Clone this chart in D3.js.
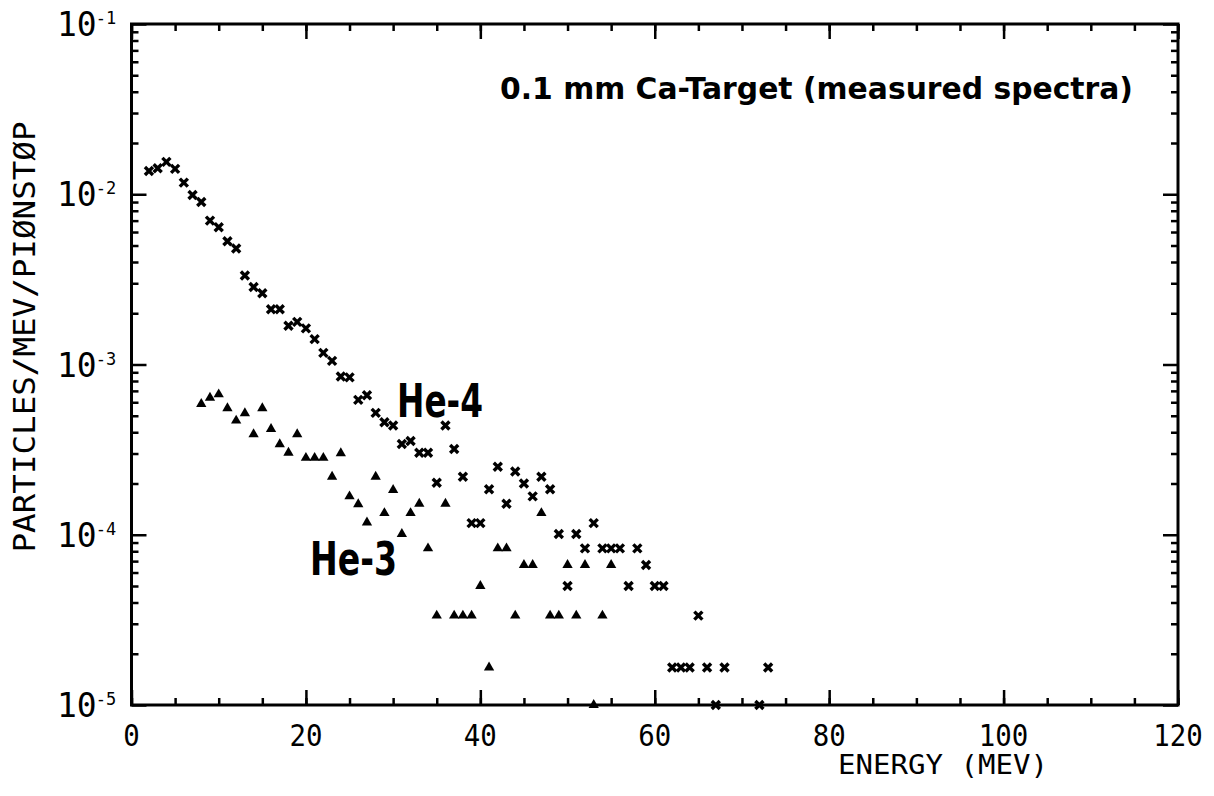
<!DOCTYPE html>
<html>
<head>
<meta charset="utf-8">
<script src="https://cdn.jsdelivr.net/npm/d3@7"></script>
<style>
body { margin: 0; background: #fff; }
text { fill: #000; }
</style>
</head>
<body>
<script>
// He-4 spectrum (crosses): energy in MeV, particles/MeV/pion stop
var he4Energy = [2, 3, 4, 5, 6, 7, 8, 9, 10, 11, 12, 13, 14, 15, 16, 17, 18, 19, 20, 21,
    22, 23, 24, 25, 26, 27, 28, 29, 30, 31, 32, 33, 34, 35, 36, 37, 38, 39, 40, 41,
    42, 43, 44, 45, 46, 47, 48, 49, 50, 51, 52, 53, 54, 55, 56, 57, 58, 59, 60, 61,
    62, 63, 64, 65, 66, 67, 68, 72, 73];
var he4Yield = [0.0137, 0.0142, 0.0155, 0.0141, 0.0117, 0.0099, 0.0090, 0.0070, 0.0064, 0.0053,
    0.0048, 0.00333, 0.00285, 0.00262, 0.00211, 0.00211, 0.00169, 0.00178, 0.00163, 0.00141,
    0.00117, 0.00105, 0.00085, 0.00084, 0.00062, 0.00066, 0.00052, 0.000458, 0.000438, 0.000341,
    0.000355, 0.000303, 0.000303, 0.000202, 0.000438, 0.000319, 0.000219, 0.000117, 0.000117, 0.000185,
    0.000251, 0.000152, 0.000235, 0.000200, 0.000168, 0.000219, 0.000185, 0.000101, 0.0000500, 0.000101,
    0.0000832, 0.000117, 0.0000832, 0.0000832, 0.0000832, 0.0000500, 0.0000832, 0.0000664, 0.0000500, 0.0000500,
    0.0000166, 0.0000166, 0.0000166, 0.0000335, 0.0000166, 0.0000100, 0.0000166, 0.0000100, 0.0000166];

// He-3 spectrum (triangles)
var he3Energy = [8, 9, 10, 11, 12, 13, 14, 15, 16, 17, 18, 19, 20, 21, 22, 23, 24, 25, 26, 27,
    28, 29, 30, 31, 32, 33, 34, 35, 36, 37, 38, 39, 40, 41, 42, 43, 44, 45, 46, 47,
    48, 49, 50, 51, 52, 53, 54, 55];
var he3Yield = [0.000586, 0.000638, 0.000668, 0.000553, 0.000468, 0.000517, 0.000389, 0.000553, 0.000418, 0.000340,
    0.000303, 0.000389, 0.000283, 0.000283, 0.000283, 0.000219, 0.000301, 0.000168, 0.000151, 0.000118,
    0.000219, 0.000134, 0.000183, 0.000101, 0.000134, 0.000152, 0.0000832, 0.0000335, 0.000152, 0.0000335,
    0.0000335, 0.0000335, 0.0000500, 0.0000166, 0.0000832, 0.0000832, 0.0000335, 0.0000664, 0.0000664, 0.000134,
    0.0000335, 0.0000335, 0.0000664, 0.0000335, 0.0000664, 0.0000100, 0.0000335, 0.0000664];

var xMajor = [0, 20, 40, 60, 80, 100, 120];
var yExponents = [-1, -2, -3, -4, -5];
var titleText = "0.1 mm Ca-Target (measured spectra)";

var width = 1214, height = 796;
// plot frame (window.top is reserved, so use other names)
var plotL = 131.5, plotR = 1178, plotT = 24, plotB = 705;

var svg = d3.select("body").append("svg")
    .attr("width", width)
    .attr("height", height)
    .style("background", "#fff");

var x = d3.scaleLinear().domain([0, 120]).range([plotL, plotR]);
var y = d3.scaleLog().domain([1e-5, 1e-1]).range([plotB, plotT]);

// minor ticks every 5 MeV, major every 20, pointing inward on all sides
var xMinor = d3.range(0, 121, 5);
var yMinor = [];
yExponents.slice(1).forEach(function (e) {
    for (var m = 2; m <= 9; m++) yMinor.push(m * Math.pow(10, e));
});
var yMajor = yExponents.map(function (e) { return Math.pow(10, e); });

function addAxis(axis, tx, ty) {
    var g = svg.append("g")
        .attr("transform", "translate(" + tx + "," + ty + ")")
        .call(axis);
    g.select(".domain").remove();
    g.selectAll("line").attr("stroke", "#000").attr("stroke-width", 2.5);
    return g;
}

addAxis(d3.axisBottom(x).tickValues(xMinor).tickSize(-7).tickFormat(""), 0, plotB);
addAxis(d3.axisBottom(x).tickValues(xMajor).tickSize(-15).tickFormat(""), 0, plotB);
addAxis(d3.axisTop(x).tickValues(xMinor).tickSize(-7).tickFormat(""), 0, plotT);
addAxis(d3.axisTop(x).tickValues(xMajor).tickSize(-15).tickFormat(""), 0, plotT);
addAxis(d3.axisLeft(y).tickValues(yMinor).tickSize(-7).tickFormat(""), plotL, 0);
addAxis(d3.axisLeft(y).tickValues(yMajor).tickSize(-15).tickFormat(""), plotL, 0);
addAxis(d3.axisRight(y).tickValues(yMinor).tickSize(-7).tickFormat(""), plotR, 0);
addAxis(d3.axisRight(y).tickValues(yMajor).tickSize(-15).tickFormat(""), plotR, 0);

// frame
svg.append("rect")
    .attr("x", plotL).attr("y", plotT)
    .attr("width", plotR - plotL).attr("height", plotB - plotT)
    .attr("fill", "none")
    .attr("stroke", "#000")
    .attr("stroke-width", 3);

// x tick labels
svg.selectAll(".xlab")
    .data(xMajor)
    .enter().append("text")
    .attr("class", "xlab")
    .attr("x", function (d) { return x(d); })
    .attr("y", plotB + 41)
    .attr("text-anchor", "middle")
    .attr("textLength", function (d) { return String(d).length * 16.5; })
    .attr("lengthAdjust", "spacingAndGlyphs")
    .style("font-family", "'DejaVu Sans Mono', monospace")
    .style("font-size", "31px")
    .text(function (d) { return d; });

// y tick labels 10^e
var ylab = svg.selectAll(".ylab")
    .data(yExponents)
    .enter().append("text")
    .attr("class", "ylab")
    .attr("x", 57)
    .attr("y", function (e) { return y(Math.pow(10, e)) + 12; })
    .style("font-family", "'DejaVu Sans Mono', monospace")
    .style("font-size", "33px");
ylab.append("tspan").text("10");
ylab.append("tspan")
    .attr("dy", -12)
    .attr("dx", -1)
    .style("font-size", "17px")
    .text(function (e) { return e; });

// axis titles
svg.append("text")
    .attr("x", 838)
    .attr("y", 774)
    .attr("textLength", 210)
    .attr("lengthAdjust", "spacingAndGlyphs")
    .style("font-family", "'DejaVu Sans Mono', monospace")
    .style("font-size", "27px")
    .text("ENERGY (MEV)");

svg.append("text")
    .attr("transform", "translate(35,337) rotate(-90)")
    .attr("text-anchor", "middle")
    .attr("textLength", 431)
    .attr("lengthAdjust", "spacingAndGlyphs")
    .style("font-family", "'DejaVu Sans Mono', monospace")
    .style("font-size", "31px")
    .text("PARTICLES/MEV/PIØNSTØP");

// title and curve labels
svg.append("text")
    .attr("x", 500)
    .attr("y", 99)
    .attr("textLength", 633)
    .attr("lengthAdjust", "spacingAndGlyphs")
    .style("font-family", "'DejaVu Sans', sans-serif")
    .style("font-size", "31px")
    .style("font-weight", "bold")
    .text(titleText);

svg.append("text")
    .attr("x", 397)
    .attr("y", 417)
    .attr("textLength", 86)
    .attr("lengthAdjust", "spacingAndGlyphs")
    .style("font-family", "'DejaVu Sans', sans-serif")
    .style("font-size", "46px")
    .style("font-weight", "bold")
    .text("He-4");

svg.append("text")
    .attr("x", 310)
    .attr("y", 575)
    .attr("textLength", 87)
    .attr("lengthAdjust", "spacingAndGlyphs")
    .style("font-family", "'DejaVu Sans', sans-serif")
    .style("font-size", "46px")
    .style("font-weight", "bold")
    .text("He-3");

// He-4 crosses
var he4 = he4Energy.map(function (e, i) { return { e: e, v: he4Yield[i] }; });
svg.append("g").selectAll("path")
    .data(he4)
    .enter().append("path")
    .attr("transform", function (d) { return "translate(" + x(d.e) + "," + y(d.v) + ")"; })
    .attr("d", "M-4,-4L4,4M-4,4L4,-4")
    .attr("stroke", "#000")
    .attr("stroke-width", 3.4)
    .attr("fill", "none");

// He-3 triangles
var he3 = he3Energy.map(function (e, i) { return { e: e, v: he3Yield[i] }; });
svg.append("g").selectAll("path")
    .data(he3)
    .enter().append("path")
    .attr("transform", function (d) { return "translate(" + x(d.e) + "," + y(d.v) + ")"; })
    .attr("d", d3.symbol().type(d3.symbolTriangle).size(46))
    .attr("fill", "#000");
</script>
</body>
</html>
